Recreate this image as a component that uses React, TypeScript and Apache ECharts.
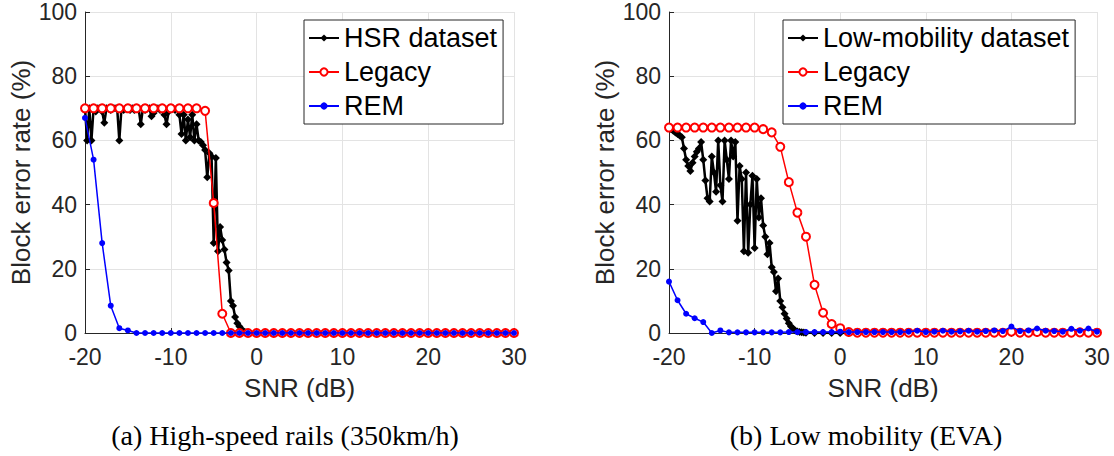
import React, { useEffect, useRef } from "react";
import * as echarts from "echarts";

// ---------- Data ----------
const snrInt = [
  -20, -19, -18, -17, -16, -15, -14, -13, -12, -11, -10, -9, -8, -7, -6, -5, -4, -3, -2, -1,
  0, 1, 2, 3, 4, 5, 6, 7, 8, 9, 10, 11, 12, 13, 14, 15, 16, 17, 18, 19, 20,
  21, 22, 23, 24, 25, 26, 27, 28, 29, 30,
];

// (a) High-speed rails
const hsrLegacy = [
  70, 70, 70, 70, 70, 70, 70, 70, 70, 70, 70, 70, 70, 70, 69.2, 40.5, 6, 0, 0, 0,
  0, 0, 0, 0, 0, 0, 0, 0, 0, 0, 0, 0, 0, 0, 0, 0, 0, 0, 0, 0, 0,
  0, 0, 0, 0, 0, 0, 0, 0, 0, 0,
];
const hsrRem = [
  67, 54, 28, 8.5, 1.5, 0.8, 0, 0, 0, 0, 0, 0, 0, 0, 0, 0, 0, 0, 0, 0,
  0, 0, 0, 0, 0, 0, 0, 0, 0, 0, 0, 0, 0, 0, 0, 0, 0, 0, 0, 0, 0,
  0, 0, 0, 0, 0, 0, 0, 0, 0, 0,
];
const hsrSnr = [
  -20, -19.75, -19.5, -19.25, -19, -18.75, -18.5, -18.25, -18, -17.75, -17.5, -17.25,
  -17, -16.75, -16.5, -16.25, -16, -15.75, -15.5, -15.25, -15, -14.75, -14.5, -14.25,
  -14, -13.75, -13.5, -13.25, -13, -12.75, -12.5, -12.25, -12, -11.75, -11.5, -11.25,
  -11, -10.75, -10.5, -10.25, -10, -9.75, -9.5, -9.25, -9, -8.75, -8.5, -8.25,
  -8, -7.75, -7.5, -7.25, -7, -6.75, -6.5, -6.25, -6, -5.75, -5.5, -5.25,
  -5, -4.75, -4.5, -4.25, -4, -3.75, -3.5, -3.25, -3, -2.75, -2.5, -2.25,
  -2, -1.75, -1.5, -1.25, -1,
  0, 1, 2, 3, 4, 5, 6, 7, 8, 9, 10, 11, 12, 13, 14, 15, 16, 17, 18, 19, 20,
  21, 22, 23, 24, 25, 26, 27, 28, 29, 30,
];
const hsrBler = [
  70, 60, 70, 60, 70, 69, 70, 70, 69, 65.5, 70, 70,
  69.5, 70, 70, 70, 60, 70, 69.5, 70, 70, 69.5, 70, 69.5,
  70, 70, 65, 70, 69.5, 70, 70, 67.5, 68.5, 70, 70, 69.5,
  70, 68, 65, 69, 70, 70, 69.5, 70, 68, 62, 68, 60,
  66.5, 61, 68, 60, 65, 60, 59.5, 58.5, 57, 48.5, 56, 55,
  28, 54.5, 25.5, 33, 29, 26, 22, 19.5, 10, 8.5, 5, 3,
  2, 1.2, 0.5, 0.2, 0.1,
  0, 0, 0, 0, 0, 0, 0, 0, 0, 0, 0, 0, 0, 0, 0, 0, 0, 0, 0, 0, 0,
  0, 0, 0, 0, 0, 0, 0, 0, 0, 0,
];

// (b) Low mobility
const lmLegacy = [
  64, 64, 64, 64, 64, 64, 64, 64, 64, 64, 64, 63.5, 62.5, 58, 47, 37.5, 30, 15, 6.3, 2.8,
  1.5, 0.3, 0.1, 0.1, 0.1, 0.1, 0.1, 0.1, 0.1, 0.1, 0.1, 0.1, 0.1, 0.1, 0.1, 0.1, 0.1, 0.1, 0.1, 0.1, 0.4,
  0.1, 0.1, 0.3, 0.1, 0.1, 0.1, 0.1, 0.2, 0.1, 0.1,
];
const lmRem = [
  16, 10.2, 6, 4.6, 3.4, 0, 0.8, 0.2, 0.2, 0.2, 0.2, 0.2, 0.2, 0.2, 0.3, 0.3, 0.3, 0.3, 0.3, 0.3,
  0.4, 0.3, 0.3, 0.3, 0.3, 0.3, 0.3, 0.3, 0.4, 0.7, 0.3, 0.4, 0.7, 0.4, 0.5, 0.7, 0.4, 0.6, 0.8, 0.6, 2,
  0.6, 0.8, 1.4, 0.7, 0.6, 0.4, 1.3, 0.7, 1.4, 0.4,
];
const lmSnr = [
  -20, -19.75, -19.5, -19.25, -19, -18.75, -18.5, -18.25, -18, -17.75, -17.5, -17.25,
  -17, -16.75, -16.5, -16.25, -16, -15.75, -15.5, -15.25, -15, -14.75, -14.5, -14.25,
  -14, -13.75, -13.5, -13.25, -13, -12.75, -12.5, -12.25, -12, -11.75, -11.5, -11.25,
  -11, -10.75, -10.5, -10.25, -10, -9.75, -9.5, -9.25, -9, -8.75, -8.5, -8.25,
  -8, -7.75, -7.5, -7.25, -7, -6.75, -6.5, -6.25, -6, -5.75, -5.5, -5.25,
  -5, -4.75, -4.5, -4.25, -4,
  -3, -2, -1, 0, 1, 2, 3, 4, 5, 6, 7, 8, 9, 10, 11, 12, 13, 14, 15, 16, 17, 18, 19, 20,
  21, 22, 23, 24, 25, 26, 27, 28, 29, 30,
];
const lmBler = [
  64, 63.5, 63, 62.5, 62, 61.5, 61, 57.5, 54, 52, 50.5, 53,
  55, 56.5, 57.5, 59.5, 54, 47.5, 42, 41, 55, 50, 44, 60,
  46, 41, 60, 54, 48, 60, 55, 59.5, 35, 52, 48, 25.5,
  50, 25, 40, 49, 26.5, 48, 36, 42, 33.5, 30, 24.5, 28,
  20.5, 19, 13, 17, 10, 8, 6, 4.5, 3, 2, 1.3, 0.8,
  0.5, 0.3, 0.2, 0.15, 0.1,
  0, 0, 0, 0, 0, 0, 0, 0, 0, 0, 0, 0, 0, 0, 0, 0, 0, 0, 0, 0, 0, 0, 0, 0,
  0, 0, 0, 0, 0, 0, 0, 0, 0, 0,
];

const xTicks = { min: -20, max: 30, interval: 10 };
const yTicks = { min: 0, max: 100, interval: 20 };

const captionA = "(a) High-speed rails (350km/h)";
const captionB = "(b) Low mobility (EVA)";

// ---------- Chart ----------
const SANS = "'Liberation Sans', Arial, Helvetica, sans-serif";
const SERIF = "'Liberation Serif', 'Times New Roman', serif";
const AX = "#262626";

const zip = (xs: number[], ys: number[]) => xs.map((x, i) => [x, ys[i]]);

function makeX(idx: number) {
  return {
    type: "value",
    gridIndex: idx,
    min: xTicks.min,
    max: xTicks.max,
    interval: xTicks.interval,
    name: "SNR (dB)",
    nameLocation: "middle",
    nameGap: 42,
    nameTextStyle: { fontSize: 26, color: AX, fontFamily: SANS },
    axisLine: { show: true, onZero: false, lineStyle: { color: AX, width: 1 } },
    axisTick: { show: true, inside: true, length: 5, lineStyle: { color: AX } },
    axisLabel: { fontSize: 23, color: AX, fontFamily: SANS, margin: 12 },
    splitLine: { show: true, lineStyle: { color: "#e3e3e3", width: 1 } },
  };
}
function makeY(idx: number) {
  return {
    type: "value",
    gridIndex: idx,
    min: yTicks.min,
    max: yTicks.max,
    interval: yTicks.interval,
    name: "Block error rate (%)",
    nameLocation: "middle",
    nameGap: 51,
    nameRotate: 90,
    nameTextStyle: { fontSize: 26, color: AX, fontFamily: SANS },
    axisLine: { show: true, onZero: false, lineStyle: { color: AX, width: 1 } },
    axisTick: { show: true, inside: true, length: 5, lineStyle: { color: AX } },
    axisLabel: { fontSize: 23, color: AX, fontFamily: SANS, margin: 8 },
    splitLine: { show: true, lineStyle: { color: "#e3e3e3", width: 1 } },
  };
}

function dataSeries(name: string, idx: number, data: number[][]) {
  return {
    type: "line",
    name,
    xAxisIndex: idx,
    yAxisIndex: idx,
    data,
    symbol: "diamond",
    symbolSize: 8,
    lineStyle: { color: "#000", width: 2.5 },
    itemStyle: { color: "#000" },
    z: 2,
  };
}
function legacySeries(idx: number, data: number[][]) {
  return {
    type: "line",
    name: "Legacy",
    xAxisIndex: idx,
    yAxisIndex: idx,
    data,
    symbol: "emptyCircle",
    symbolSize: 8,
    lineStyle: { color: "#ff0000", width: 1.5 },
    itemStyle: { color: "#ff0000", borderColor: "#ff0000", borderWidth: 1.5 },
    z: 3,
  };
}
function remSeries(idx: number, data: number[][]) {
  return {
    type: "line",
    name: "REM",
    xAxisIndex: idx,
    yAxisIndex: idx,
    data,
    symbol: "circle",
    symbolSize: 6,
    lineStyle: { color: "#0000ff", width: 1.5 },
    itemStyle: { color: "#0000ff" },
    z: 4,
  };
}

function makeLegend(left: number, names: string[]) {
  return {
    orient: "vertical",
    left,
    top: 20,
    data: names,
    backgroundColor: "#fff",
    borderColor: AX,
    borderWidth: 1,
    borderRadius: 0,
    padding: [3, 6, 3, 4],
    itemGap: 4,
    itemWidth: 30,
    itemHeight: 9,
    itemTextGap: 4,
    selectedMode: false,
    textStyle: { fontSize: 27, fontFamily: SANS, color: "#000", lineHeight: 30 },
  };
}

export default function App() {
  const ref = useRef<HTMLDivElement>(null);
  useEffect(() => {
    if (!ref.current) return;
    const chart = echarts.init(ref.current, null, { renderer: "svg" });
    chart.setOption({
      animation: false,
      backgroundColor: "#fff",
      grid: [
        { left: 85, top: 12, width: 429, height: 321 },
        { left: 669, top: 12, width: 428, height: 321 },
      ],
      xAxis: [makeX(0), makeX(1)],
      yAxis: [makeY(0), makeY(1)],
      legend: [
        makeLegend(304, ["HSR dataset", "Legacy", "REM"]),
        makeLegend(783, ["Low-mobility dataset", "Legacy", "REM"]),
      ],
      series: [
        dataSeries("HSR dataset", 0, zip(hsrSnr, hsrBler)),
        legacySeries(0, zip(snrInt, hsrLegacy)),
        remSeries(0, zip(snrInt, hsrRem)),
        dataSeries("Low-mobility dataset", 1, zip(lmSnr, lmBler)),
        legacySeries(1, zip(snrInt, lmLegacy)),
        remSeries(1, zip(snrInt, lmRem)),
      ],
      graphic: [
        {
          type: "text",
          x: 285,
          y: 435,
          style: {
            text: captionA,
            font: `28px ${SERIF}`,
            fill: "#000",
            textAlign: "center",
            textVerticalAlign: "middle",
          },
        },
        {
          type: "text",
          x: 866,
          y: 435,
          style: {
            text: captionB,
            font: `28px ${SERIF}`,
            fill: "#000",
            textAlign: "center",
            textVerticalAlign: "middle",
          },
        },
      ],
    });
    return () => chart.dispose();
  }, []);
  return (
    <div
      ref={ref}
      style={{ position: "absolute", left: 0, top: 0, width: 1114, height: 456 }}
    />
  );
}
